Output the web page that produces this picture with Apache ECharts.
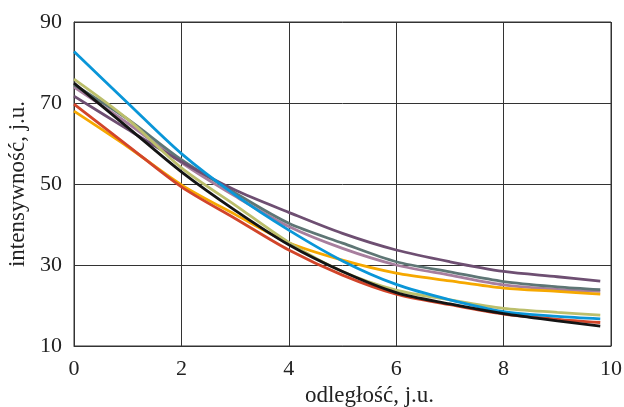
<!DOCTYPE html>
<html>
<head>
<meta charset="utf-8">
<script src="https://cdn.jsdelivr.net/npm/echarts@6/dist/echarts.min.js"></script>
<style>
  html, body { margin: 0; padding: 0; background: #fff; }
  #chart { width: 624px; height: 407px; }
</style>
</head>
<body>
<div id="chart"></div>
<script>
// odległość (x) – wspólne dla wszystkich krzywych
const xs = [0, 1, 2, 3, 4, 5, 6, 7, 8, 9, 9.8]

const blue   = [82.7, 70.0, 57.5, 47.3, 38.6, 31.0, 25.2, 21.4, 18.5, 17.3, 16.7]
const olive  = [75.9, 66.0, 54.0, 44.8, 35.6, 28.4, 23.8, 21.4, 19.3, 18.3, 17.6]
const black  = [74.9, 64.0, 53.0, 43.5, 35.0, 28.4, 23.2, 20.4, 18.0, 16.2, 14.9]
const slate  = [74.5, 66.0, 56.0, 47.8, 40.3, 35.4, 30.8, 28.3, 25.9, 24.6, 23.9]
const pink   = [73.9, 65.0, 55.3, 47.0, 39.5, 34.1, 30.0, 27.5, 25.1, 24.0, 23.5]
const purple = [71.7, 63.5, 55.5, 48.5, 43.0, 37.8, 33.7, 30.8, 28.4, 27.1, 26.0]
const red    = [69.7, 59.5, 49.3, 41.5, 33.7, 27.5, 22.8, 20.2, 17.9, 16.6, 15.8]
const orange = [68.0, 59.2, 49.8, 42.5, 35.5, 31.2, 28.0, 26.1, 24.3, 23.5, 22.8]

const xTicks = [0, 2, 4, 6, 8, 10]
const yTicks = [10, 30, 50, 70, 90]

const font = 'Liberation Serif'
const chart = echarts.init(document.getElementById('chart'))

const curves = [
  { values: pink, color: '#a77e9e' },
  { values: slate, color: '#5e7675' },
  { values: purple, color: '#6e4f72' },
  { values: orange, color: '#f6a800' },
  { values: olive, color: '#bcbf6c' },
  { values: red, color: '#d2452a' },
  { values: blue, color: '#0a96d8' },
  { values: black, color: '#141414' }
]

const option = {
  animation: false,
  grid: {
    left: 74, right: 13, top: 22, bottom: 61,
    containLabel: false,
    outerBoundsMode: 'none',
    show: true, borderColor: '#333', borderWidth: 1
  },
  xAxis: {
    type: 'value',
    min: xTicks[0], max: xTicks[xTicks.length - 1], interval: 2,
    name: 'odległość, j.u.',
    nameLocation: 'middle',
    nameGap: 37,
    nameTextStyle: { fontFamily: font, fontSize: 23, color: '#222', padding: [0, 0, 0, 54] },
    axisLine: { lineStyle: { color: '#333', width: 1 } },
    axisTick: { show: false },
    axisLabel: { fontFamily: font, fontSize: 22, color: '#222', margin: 12 },
    splitLine: { show: true, lineStyle: { color: '#333', width: 1 } }
  },
  yAxis: {
    type: 'value',
    min: yTicks[0], max: yTicks[yTicks.length - 1], interval: 20,
    name: 'intensywność, j.u.',
    nameLocation: 'middle',
    nameGap: 44,
    nameTextStyle: { fontFamily: font, fontSize: 23, color: '#222' },
    axisLine: { show: true, lineStyle: { color: '#333', width: 1 } },
    axisTick: { show: false },
    axisLabel: { fontFamily: font, fontSize: 22, color: '#222', margin: 12 },
    splitLine: { show: true, lineStyle: { color: '#333', width: 1 } }
  },
  series: curves.map(c => ({
    type: 'line',
    data: xs.map((x, i) => [x, c.values[i]]),
    smooth: 0.3,
    showSymbol: false,
    lineStyle: { color: c.color, width: 2.8 }
  }))
}
chart.setOption(option)
</script>
</body>
</html>
